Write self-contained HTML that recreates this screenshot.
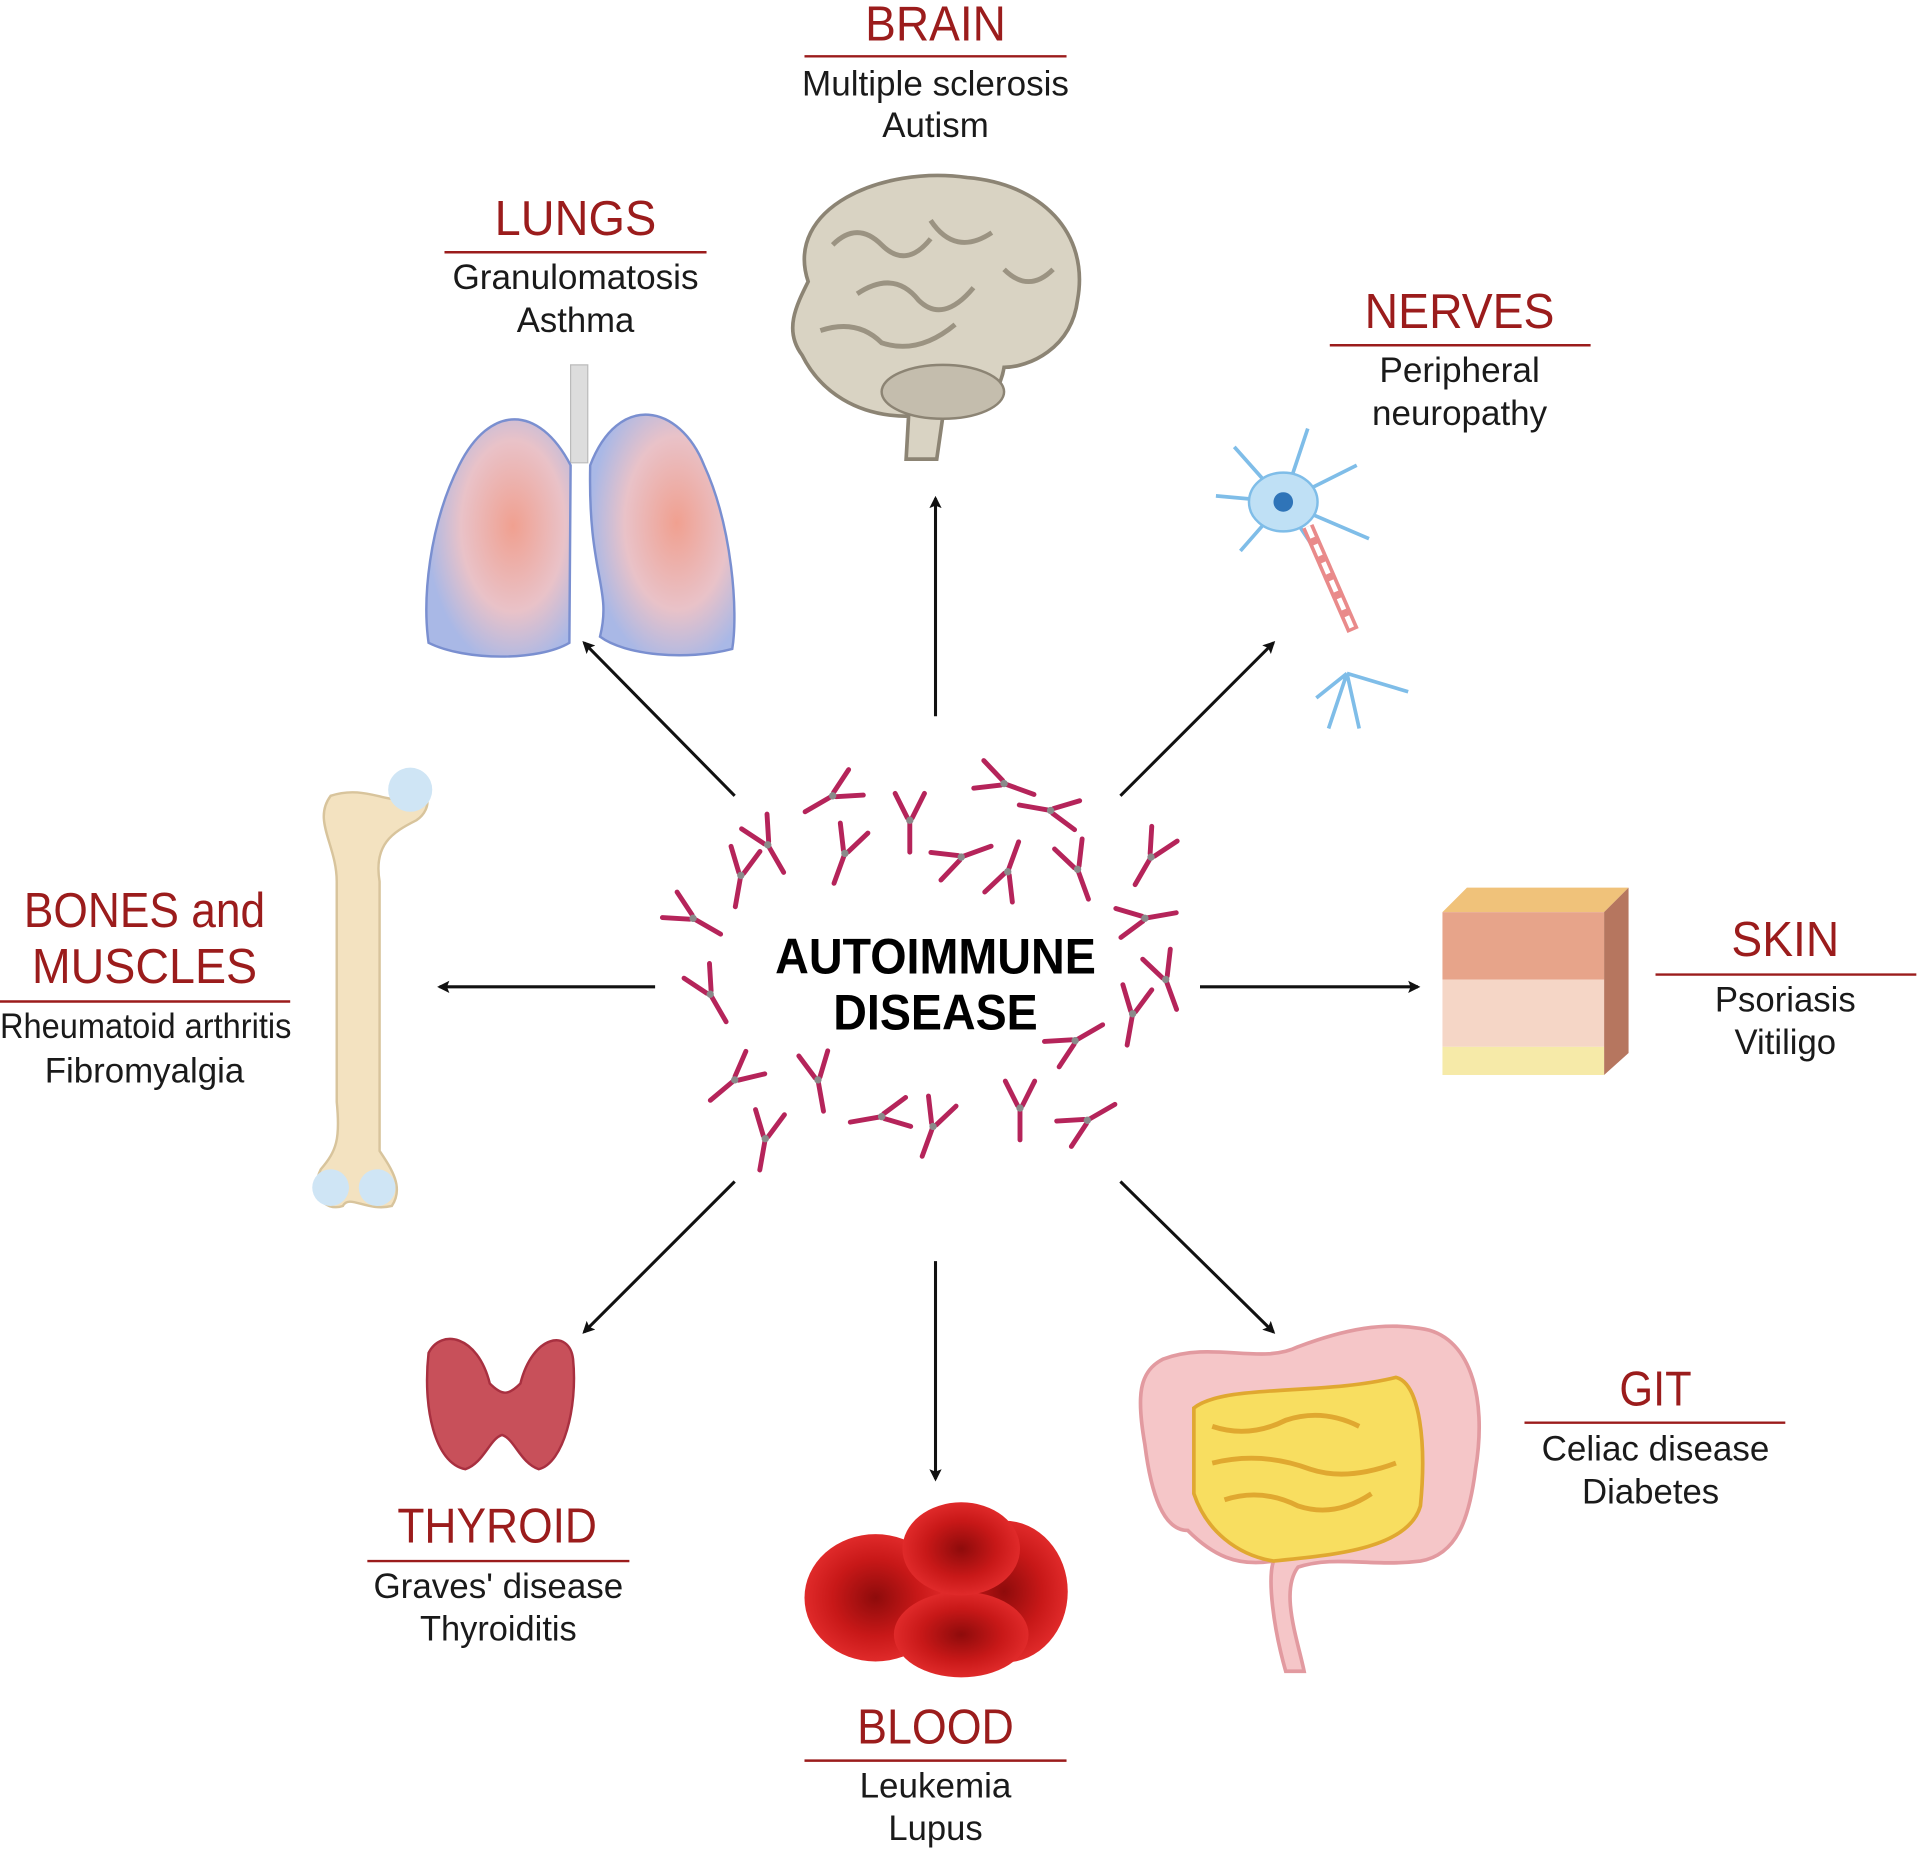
<!DOCTYPE html>
<html><head><meta charset="utf-8"><style>
html,body{margin:0;padding:0;background:#fff;}
svg{display:block;}
.t{font-family:"Liberation Sans",sans-serif;fill:#9b1c1c;font-size:40px;text-anchor:middle;}
.s{font-family:"Liberation Sans",sans-serif;fill:#1a1a1a;font-size:29px;text-anchor:middle;}
.c{font-family:"Liberation Sans",sans-serif;fill:#000;font-size:41px;font-weight:bold;text-anchor:middle;}
.ln{stroke:#9b1c1c;stroke-width:2;}
.ar{stroke:#111;stroke-width:2.5;fill:none;marker-end:url(#ah);}
</style></head><body>
<svg width="1920" height="1850" viewBox="0 0 1568 1511" preserveAspectRatio="none" xmlns="http://www.w3.org/2000/svg">
<defs>
<marker id="ah" markerWidth="10" markerHeight="10" refX="8" refY="5" orient="auto" markerUnits="userSpaceOnUse" viewBox="0 0 10 10">
<path d="M0,0 L10,5 L0,10 L2,5 z" fill="#111"/></marker>
<g id="ab"><g stroke="#b5245a" stroke-width="4" stroke-linecap="round"><line x1="0" y1="2" x2="0" y2="26"/><line x1="-2" y1="-2" x2="-12" y2="-22"/><line x1="2" y1="-2" x2="12" y2="-22"/></g><circle r="3" fill="#8a8a8a"/></g>
<radialGradient id="lg" cx="0.6" cy="0.45" r="0.6"><stop offset="0" stop-color="#f0a090"/><stop offset="0.6" stop-color="#e9c2c8"/><stop offset="1" stop-color="#a9b8e6"/></radialGradient>
<radialGradient id="rb" cx="0.5" cy="0.5" r="0.5"><stop offset="0" stop-color="#8e0b0b"/><stop offset="0.6" stop-color="#c81818"/><stop offset="1" stop-color="#e02a2a"/></radialGradient>
</defs>

<g lengthAdjust="spacingAndGlyphs">
<text class="t" x="764" y="33" textLength="115" lengthAdjust="spacingAndGlyphs">BRAIN</text><line class="ln" x1="657" y1="46" x2="871" y2="46"/>
<text class="s" x="764" y="78" textLength="218" lengthAdjust="spacingAndGlyphs">Multiple sclerosis</text><text class="s" x="764" y="112" textLength="87" lengthAdjust="spacingAndGlyphs">Autism</text>

<text class="t" x="470" y="192" textLength="132" lengthAdjust="spacingAndGlyphs">LUNGS</text><line class="ln" x1="363" y1="206" x2="577" y2="206"/>
<text class="s" x="470" y="236" textLength="201" lengthAdjust="spacingAndGlyphs">Granulomatosis</text><text class="s" x="470" y="271" textLength="96" lengthAdjust="spacingAndGlyphs">Asthma</text>

<text class="t" x="1192" y="268" textLength="155" lengthAdjust="spacingAndGlyphs">NERVES</text><line class="ln" x1="1086" y1="282" x2="1299" y2="282"/>
<text class="s" x="1192" y="312" textLength="131" lengthAdjust="spacingAndGlyphs">Peripheral</text><text class="s" x="1192" y="347" textLength="143" lengthAdjust="spacingAndGlyphs">neuropathy</text>

<text class="t" x="118" y="757" textLength="197" lengthAdjust="spacingAndGlyphs">BONES and</text><text class="t" x="118" y="803" textLength="184" lengthAdjust="spacingAndGlyphs">MUSCLES</text><line class="ln" x1="0" y1="818" x2="237" y2="818"/>
<text class="s" x="119" y="848" textLength="238" lengthAdjust="spacingAndGlyphs">Rheumatoid arthritis</text><text class="s" x="118" y="884" textLength="163" lengthAdjust="spacingAndGlyphs">Fibromyalgia</text>

<text class="t" x="1458" y="781" textLength="88" lengthAdjust="spacingAndGlyphs">SKIN</text><line class="ln" x1="1352" y1="796" x2="1565" y2="796"/>
<text class="s" x="1458" y="826" textLength="115" lengthAdjust="spacingAndGlyphs">Psoriasis</text><text class="s" x="1458" y="861" textLength="83" lengthAdjust="spacingAndGlyphs">Vitiligo</text>

<text class="t" x="1352" y="1148" textLength="59" lengthAdjust="spacingAndGlyphs">GIT</text><line class="ln" x1="1245" y1="1162" x2="1458" y2="1162"/>
<text class="s" x="1352" y="1193" textLength="186" lengthAdjust="spacingAndGlyphs">Celiac disease</text><text class="s" x="1348" y="1228" textLength="112" lengthAdjust="spacingAndGlyphs">Diabetes</text>

<text class="t" x="406" y="1260" textLength="163" lengthAdjust="spacingAndGlyphs">THYROID</text><line class="ln" x1="300" y1="1275" x2="514" y2="1275"/>
<text class="s" x="407" y="1305" textLength="204" lengthAdjust="spacingAndGlyphs">Graves' disease</text><text class="s" x="407" y="1340" textLength="128" lengthAdjust="spacingAndGlyphs">Thyroiditis</text>

<text class="t" x="764" y="1424" textLength="128" lengthAdjust="spacingAndGlyphs">BLOOD</text><line class="ln" x1="657" y1="1438" x2="871" y2="1438"/>
<text class="s" x="764" y="1468" textLength="124" lengthAdjust="spacingAndGlyphs">Leukemia</text><text class="s" x="764" y="1503" textLength="77" lengthAdjust="spacingAndGlyphs">Lupus</text>

<text class="c" x="764" y="795" textLength="262" lengthAdjust="spacingAndGlyphs">AUTOIMMUNE</text><text class="c" x="764" y="841" textLength="167" lengthAdjust="spacingAndGlyphs">DISEASE</text>
</g>

<line class="ar" x1="764" y1="585" x2="764" y2="407"/>
<line class="ar" x1="535" y1="806" x2="359" y2="806"/>
<line class="ar" x1="980" y1="806" x2="1158" y2="806"/>
<line class="ar" x1="764" y1="1030" x2="764" y2="1208"/>
<line class="ar" x1="600" y1="650" x2="477" y2="525"/>
<line class="ar" x1="915" y1="650" x2="1040" y2="525"/>
<line class="ar" x1="600" y1="965" x2="477" y2="1088"/>
<line class="ar" x1="915" y1="965" x2="1040" y2="1088"/>

<use href="#ab" transform="translate(680,650) rotate(60)"/>
<use href="#ab" transform="translate(743,670) rotate(0)"/>
<use href="#ab" transform="translate(820,640) rotate(-70)"/>
<use href="#ab" transform="translate(858,662) rotate(100)"/>
<use href="#ab" transform="translate(627,690) rotate(-30)"/>
<use href="#ab" transform="translate(690,697) rotate(20)"/>
<use href="#ab" transform="translate(605,715) rotate(10)"/>
<use href="#ab" transform="translate(785,700) rotate(-110)"/>
<use href="#ab" transform="translate(823,712) rotate(200)"/>
<use href="#ab" transform="translate(880,710) rotate(-20)"/>
<use href="#ab" transform="translate(940,700) rotate(30)"/>
<use href="#ab" transform="translate(566,750) rotate(-60)"/>
<use href="#ab" transform="translate(935,750) rotate(-100)"/>
<use href="#ab" transform="translate(580,812) rotate(-30)"/>
<use href="#ab" transform="translate(952,800) rotate(-20)"/>
<use href="#ab" transform="translate(925,828) rotate(10)"/>
<use href="#ab" transform="translate(878,850) rotate(-120)"/>
<use href="#ab" transform="translate(600,882) rotate(50)"/>
<use href="#ab" transform="translate(668,882) rotate(-10)"/>
<use href="#ab" transform="translate(720,912) rotate(80)"/>
<use href="#ab" transform="translate(762,920) rotate(20)"/>
<use href="#ab" transform="translate(833,905) rotate(0)"/>
<use href="#ab" transform="translate(888,915) rotate(-120)"/>
<use href="#ab" transform="translate(625,930) rotate(10)"/>

<g>
<path d="M660,230 C640,170 720,135 790,145 C850,150 890,190 880,245 C875,285 840,300 820,300 C815,330 790,345 770,340 L765,375 L740,375 L742,340 C700,340 670,320 655,290 C640,270 650,250 660,230 Z" fill="#d9d3c3" stroke="#8c8474" stroke-width="3"/>
<path d="M680,200 q20,-20 40,0 q20,20 40,-5 M700,240 q30,-20 50,5 q20,20 45,-10 M760,180 q20,30 50,10 M670,270 q30,-10 50,10 q30,10 60,-15 M820,220 q20,20 40,0" stroke="#9b9382" stroke-width="4" fill="none"/>
<ellipse cx="770" cy="320" rx="50" ry="22" fill="#c4bdad" stroke="#8c8474" stroke-width="2"/>
</g>

<path d="M466,298 h14 v80 h-14 z" fill="#ddd" stroke="#bbb"/>
<path d="M466,380 C440,330 400,330 375,380 C350,430 345,490 350,525 C380,540 440,540 465,525 Z" fill="url(#lg)" stroke="#7a8fd0" stroke-width="2"/>
<path d="M482,380 C505,320 555,330 575,380 C598,430 603,500 598,530 C560,540 510,535 490,520 C500,480 480,470 482,380 Z" fill="url(#lg)" stroke="#7a8fd0" stroke-width="2"/>

<g stroke="#7fbde8" stroke-width="3" fill="none">
<path d="M1048,410 l-40,-45 M1048,410 l-55,-5 M1048,410 l-35,40 M1048,410 l20,-60 M1048,410 l60,-30 M1048,410 l70,30 M1048,410 l30,45 M1100,550 l-25,20 M1100,550 l10,45 M1100,550 l50,15 M1100,550 l-15,45"/>
</g>
<ellipse cx="1048" cy="410" rx="28" ry="24" fill="#bfe0f5" stroke="#7fbde8" stroke-width="2"/>
<circle cx="1048" cy="410" r="8" fill="#2f74b8"/>
<path d="M1068,430 L1105,515" stroke="#e98a8a" stroke-width="10"/>
<path d="M1068,430 L1105,515" stroke="#fff" stroke-width="4" stroke-dasharray="10 6"/>

<path d="M270,650 C300,640 320,660 335,650 C350,640 355,660 340,670 C320,680 305,690 310,720 L310,940 C320,955 330,970 320,985 C300,990 285,975 280,985 C265,990 252,975 262,955 C275,940 278,930 275,900 L275,720 C275,690 255,670 270,650 Z" fill="#f3e2c0" stroke="#d8c49c" stroke-width="2"/>
<circle cx="335" cy="645" r="18" fill="#cfe5f5"/>
<circle cx="270" cy="970" r="15" fill="#cfe5f5"/><circle cx="308" cy="970" r="15" fill="#cfe5f5"/>

<path d="M1178,745 L1198,725 L1330,725 L1310,745 Z" fill="#f0c27a"/>
<path d="M1310,745 L1330,725 L1330,860 L1310,878 Z" fill="#b6765f"/>
<rect x="1178" y="745" width="132" height="55" fill="#e7a48a"/>
<rect x="1178" y="800" width="132" height="55" fill="#f5d6c6"/>
<rect x="1178" y="855" width="132" height="23" fill="#f6eaa8"/>

<path d="M950,1110 C990,1095 1030,1115 1060,1100 C1100,1085 1130,1080 1160,1085 C1200,1090 1215,1140 1205,1200 C1200,1240 1190,1270 1160,1275 C1120,1280 1090,1270 1060,1280 C1045,1300 1060,1340 1065,1365 L1050,1365 C1040,1330 1035,1290 1040,1275 C1010,1280 990,1270 970,1250 C950,1250 940,1220 935,1180 C928,1140 930,1120 950,1110 Z" fill="#f5c6c8" stroke="#e29aa0" stroke-width="3"/>
<path d="M975,1150 C1000,1130 1080,1140 1140,1125 C1160,1130 1165,1180 1160,1230 C1150,1265 1090,1270 1040,1275 C1010,1270 985,1250 975,1220 Z" fill="#f8de60" stroke="#e0a830" stroke-width="3"/>
<path d="M990,1165 q30,10 60,-5 q30,-10 60,5 M990,1195 q40,-10 80,5 q30,10 70,-5 M1000,1225 q30,-10 60,5 q30,10 60,-10" stroke="#e0a830" stroke-width="4" fill="none"/>

<path d="M350,1105 C360,1085 390,1090 400,1130 C410,1140 415,1140 425,1130 C435,1090 465,1085 468,1110 C472,1150 460,1195 440,1200 C425,1195 420,1175 410,1172 C400,1175 395,1195 380,1200 C355,1195 345,1150 350,1105 Z" fill="#c8505a" stroke="#a83040" stroke-width="2"/>

<ellipse cx="715" cy="1305" rx="58" ry="52" fill="url(#rb)"/>
<ellipse cx="820" cy="1300" rx="52" ry="58" fill="url(#rb)"/>
<ellipse cx="785" cy="1335" rx="55" ry="35" fill="url(#rb)"/>
<ellipse cx="785" cy="1265" rx="48" ry="38" fill="url(#rb)"/>
</svg>
</body></html>
